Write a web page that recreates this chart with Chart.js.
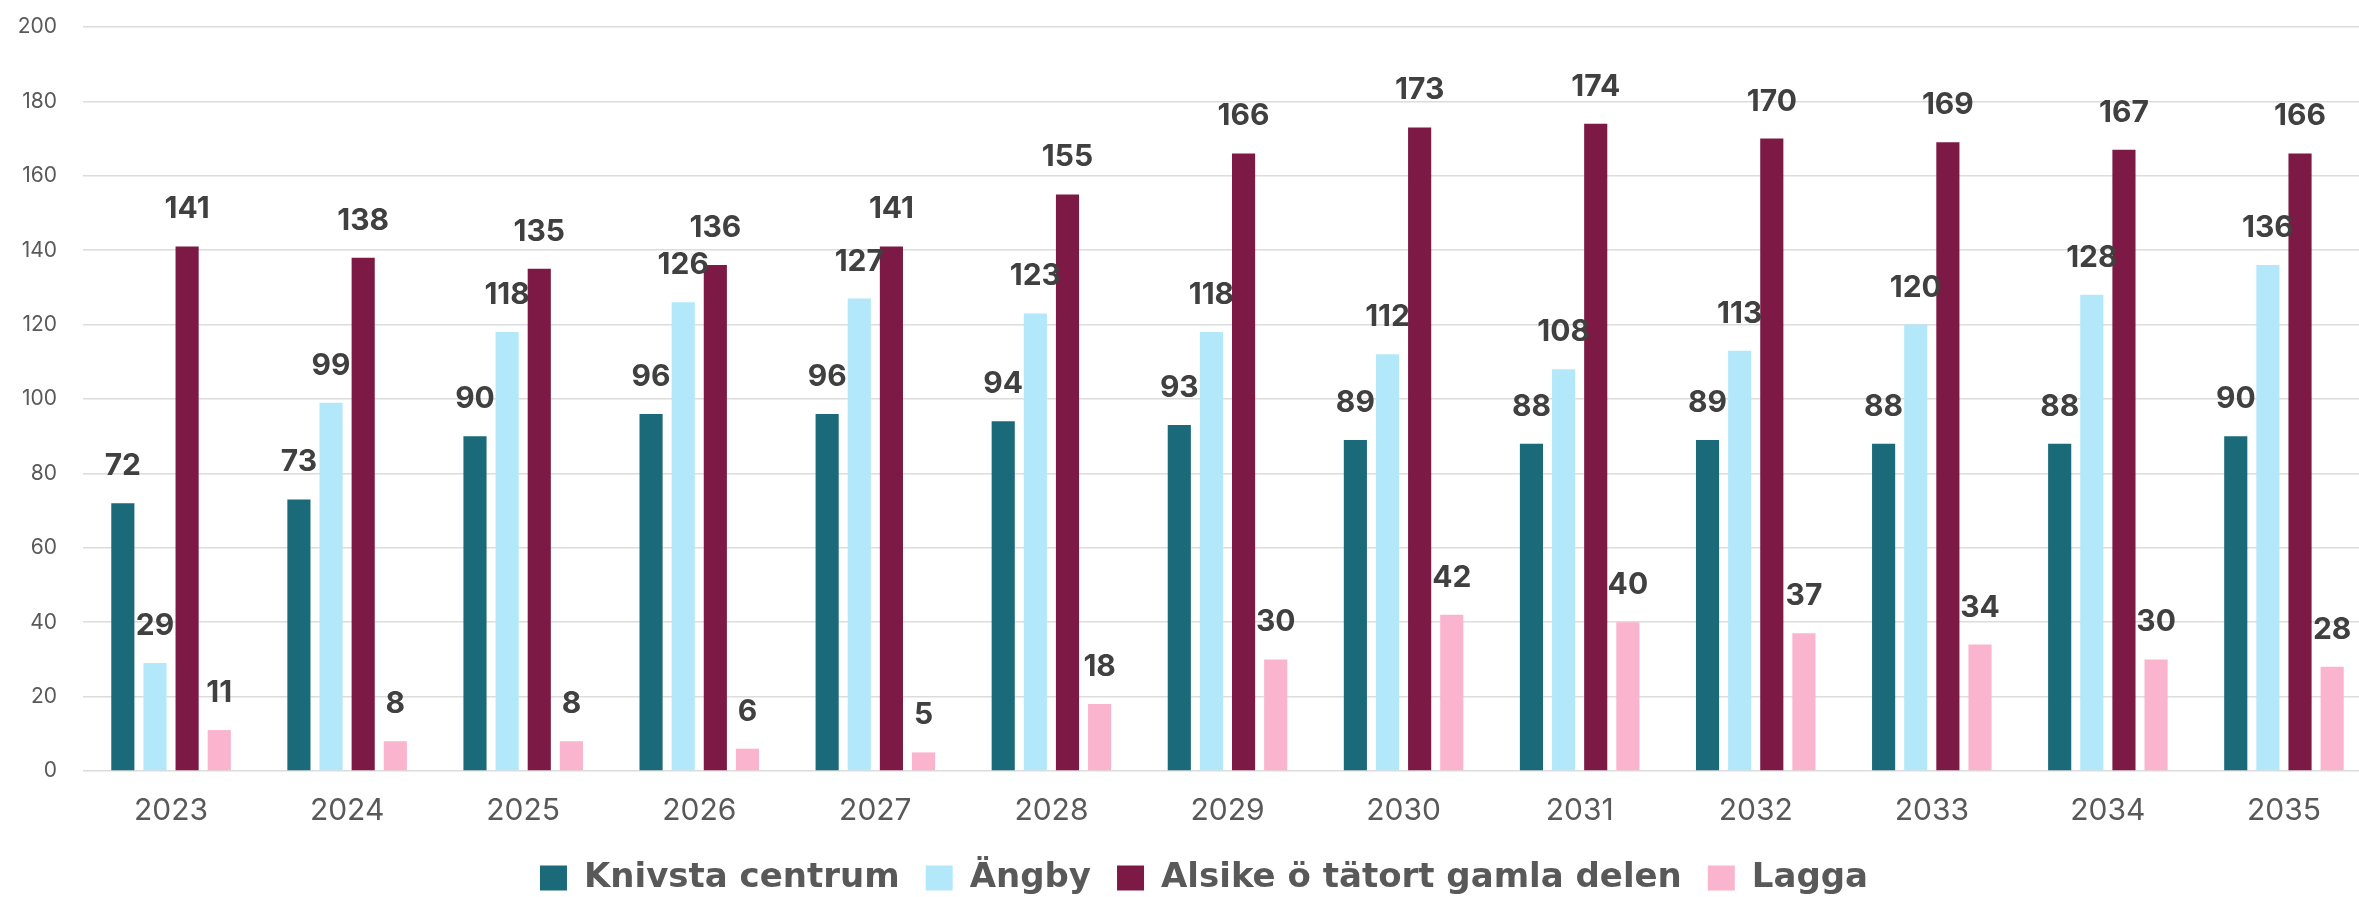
<!DOCTYPE html>
<html>
<head>
<meta charset="utf-8">
<script src="https://cdn.jsdelivr.net/npm/chart.js@4"></script>
<style>
  html, body { margin: 0; padding: 0; background: #fff; overflow: hidden; }
  #wrap { position: absolute; left: 0; top: 0; width: 2372px; height: 905px; }
</style>
</head>
<body>
<div id="wrap"><canvas id="myChart"></canvas></div>
<script>
const years = ['2023', '2024', '2025', '2026', '2027', '2028', '2029', '2030', '2031', '2032', '2033', '2034', '2035'];
const knivstaCentrum = [72, 73, 90, 96, 96, 94, 93, 89, 88, 89, 88, 88, 90];
const angby = [29, 99, 118, 126, 127, 123, 118, 112, 108, 113, 120, 128, 136];
const alsike = [141, 138, 135, 136, 141, 155, 166, 173, 174, 170, 169, 167, 166];
const lagga = [11, 8, 8, 6, 5, 18, 30, 42, 40, 37, 34, 30, 28];
const yTicks = [0, 20, 40, 60, 80, 100, 120, 140, 160, 180, 200];

// etiketter ovanför staplarna
const valueLabels = {
    id: 'valueLabels',
    afterLayout(chart) {
        // legenden ligger lite till höger om mitten
        chart.legend.left += 18;
        chart.legend.right += 18;
    },
    afterDatasetsDraw(chart) {
        const ctx = chart.ctx;
        ctx.save();
        ctx.font = 'bold 30px Inter, "Noto Sans", sans-serif';
        ctx.fillStyle = '#404040';
        ctx.textAlign = 'center';
        ctx.textBaseline = 'middle';
        chart.data.datasets.forEach(function(ds, i) {
            chart.getDatasetMeta(i).data.forEach(function(bar, j) {
                ctx.fillText(ds.data[j], bar.x, bar.y - 37);
            });
        });
        ctx.restore();
    }
};

const ctx = document.getElementById('myChart');
new Chart(ctx, {
    type: 'bar',
    data: {
        labels: years,
        datasets: [
            { label: 'Knivsta centrum', data: knivstaCentrum, backgroundColor: '#1b6a7a' },
            { label: 'Ängby', data: angby, backgroundColor: '#b3e8fb' },
            { label: 'Alsike ö tätort gamla delen', data: alsike, backgroundColor: '#7c1a45' },
            { label: 'Lagga', data: lagga, backgroundColor: '#fbb4cd' }
        ]
    },
    options: {
        responsive: true,
        maintainAspectRatio: false,
        animation: false,
        categoryPercentage: 0.73,
        barPercentage: 0.72,
        layout: { padding: { top: 27, bottom: 0, left: 0, right: 0 } },
        plugins: {
            tooltip: { enabled: false },
            legend: {
                position: 'bottom',
                labels: {
                    boxWidth: 27,
                    boxHeight: 25,
                    padding: 26,
                    color: '#595959',
                    font: { family: '"DejaVu Sans", sans-serif', size: 34, weight: 'bold' }
                }
            }
        },
        scales: {
            x: {
                grid: { display: false },
                border: { display: false },
                ticks: {
                    color: '#595959',
                    padding: 14,
                    font: { family: 'Inter, "Noto Sans", sans-serif', size: 30 }
                },
                afterFit: function(scale) { scale.height = 64; }
            },
            y: {
                min: 0,
                max: 200,
                afterBuildTicks: function(scale) {
                    scale.ticks = yTicks.map(function(v) { return { value: v }; });
                },
                grid: { color: '#dcdcdc', lineWidth: 1.5, drawTicks: false },
                border: { display: false },
                ticks: {
                    color: '#595959',
                    padding: 26,
                    font: { family: 'Inter, "Noto Sans", sans-serif', size: 21 }
                },
                afterFit: function(scale) {
                    scale.width = 83;
                    scale.paddingTop = 0;
                    scale.paddingBottom = 0;
                }
            }
        }
    },
    plugins: [valueLabels]
});
</script>
</body>
</html>
